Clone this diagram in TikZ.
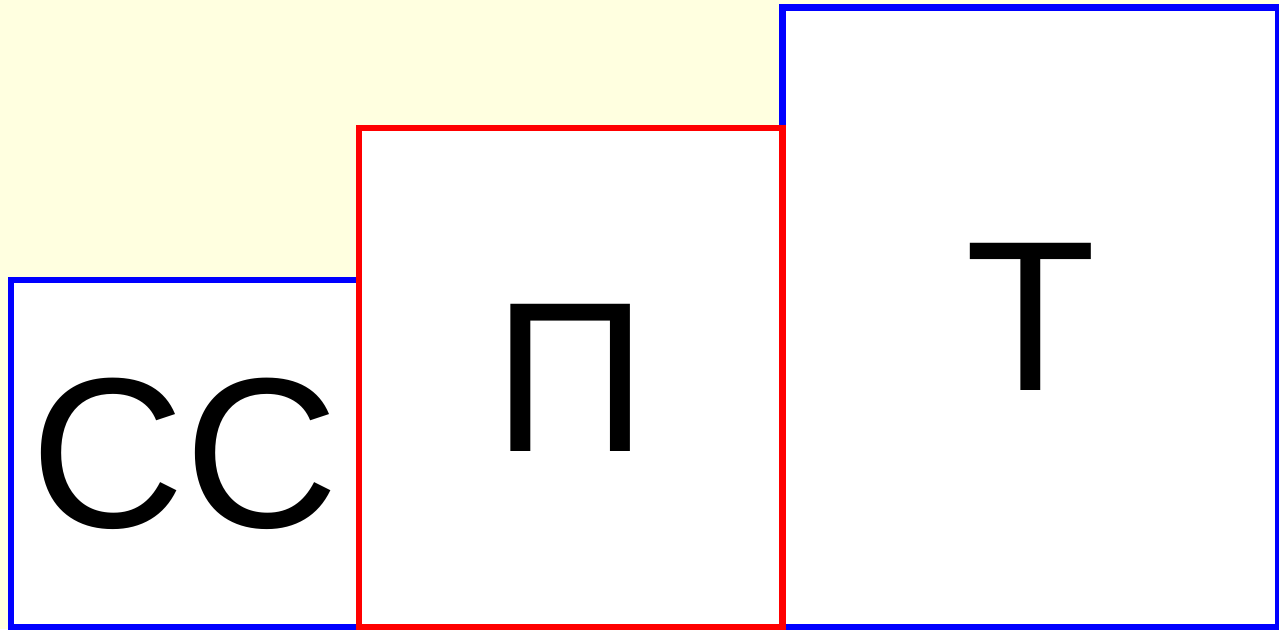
\documentclass[tikz,border=0pt]{standalone}
\usepackage{fontspec}
\setmainfont{Liberation Sans}
\definecolor{bgyellow}{RGB}{255,255,224}
\begin{document}
\begin{tikzpicture}[x=1pt,y=-1pt,
  box/.style={draw, line width=6.5pt, fill=white, inner sep=0pt, outer sep=0pt,
    font=\fontsize{214}{214}\selectfont, anchor=center}]
\fill[bgyellow] (0,0) rectangle (1279,629);
\useasboundingbox (0,0) rectangle (1279,629);
\node[box, draw=blue, minimum width=348pt, minimum height=347pt] (cc) at (185,453.5) {СС};
\node[box, draw=blue, minimum width=496pt, minimum height=619.5pt] (t) at (1030.5,317.25) {Т};
\node[box, draw=red, minimum width=423.5pt, minimum height=499pt] (p) at (570.75,377.5) {П};
\end{tikzpicture}
\end{document}
